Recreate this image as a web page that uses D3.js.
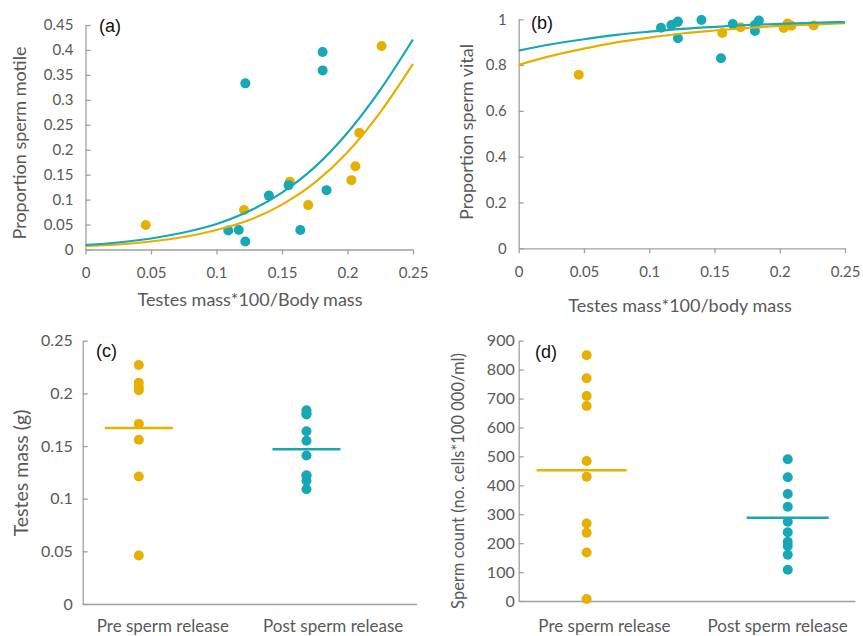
<!DOCTYPE html>
<html>
<head>
<meta charset="utf-8">
<script src="https://cdn.jsdelivr.net/npm/d3@7"></script>
<style>
  body { margin: 0; background: #fff; }
  svg { display: block; }
  .tick text { font-family: Lato, "Open Sans", sans-serif; fill: #595959; }
  .axis path, .axis line { stroke: #a0a0a0; stroke-width: 1.3; }
  .title { font-family: Lato, "Open Sans", sans-serif; fill: #595959; }
  .panel-tag { font-family: "Liberation Sans", Arial, sans-serif; fill: #111; font-size: 18px; }
</style>
</head>
<body>
<div id="chart"></div>
<script>
// colours for the two groups
var colPre = "#e6b000",   // pre sperm release
    colPost = "#17a8b5"   // post sperm release

// panel (a): proportion motile vs relative testes mass
var relMassPre  = [0.046, 0.121, 0.156, 0.170, 0.203, 0.206, 0.209, 0.226]
var relMassPost = [0.109, 0.117, 0.122, 0.122, 0.140, 0.155, 0.164, 0.181, 0.181, 0.184]
var motilePre   = [0.049, 0.079, 0.136, 0.089, 0.139, 0.167, 0.234, 0.408]
var motilePost  = [0.038, 0.039, 0.016, 0.333, 0.108, 0.129, 0.039, 0.396, 0.359, 0.119]

// panel (b): proportion vital
var vitalPre  = [0.758, 0.985, 0.940, 0.965, 0.962, 0.982, 0.972, 0.973]
var vitalPost = [0.963, 0.975, 0.990, 0.917, 0.997, 0.830, 0.979, 0.949, 0.975, 0.995]

// fitted curves at these x values
var fitX = [0, 0.025, 0.05, 0.075, 0.1, 0.125, 0.15, 0.175, 0.2, 0.225, 0.25]
var fitMotilePre  = [0.007, 0.010, 0.016, 0.025, 0.039, 0.059, 0.090, 0.134, 0.195, 0.275, 0.372]
var fitMotilePost = [0.009, 0.014, 0.022, 0.034, 0.051, 0.077, 0.114, 0.165, 0.234, 0.320, 0.421]
var fitVitalPre   = [0.801, 0.840, 0.872, 0.899, 0.920, 0.938, 0.951, 0.962, 0.971, 0.977, 0.983]
var fitVitalPost  = [0.863, 0.891, 0.913, 0.932, 0.946, 0.958, 0.967, 0.975, 0.980, 0.985, 0.988]

// panels (c) and (d): groups
var groups = ["Pre sperm release", "Post sperm release"]
var testesPre  = [0.227, 0.210, 0.206, 0.203, 0.171, 0.156, 0.121, 0.046]
var testesPost = [0.184, 0.181, 0.180, 0.164, 0.155, 0.141, 0.122, 0.122, 0.117, 0.109]
var testesMeans = [0.167, 0.147]
var countPre  = [850, 770, 709, 674, 484, 430, 268, 236, 168, 7]
var countPost = [490, 428, 370, 326, 274, 238, 205, 190, 160, 108]
var countMeans = [452, 288]

// tick values
var ticksMotile = d3.range(0, 0.4501, 0.05)
var ticksVital  = [0, 0.2, 0.4, 0.6, 0.8, 1]
var ticksRelMass = [0, 0.05, 0.1, 0.15, 0.2, 0.25]
var ticksTestes = [0, 0.05, 0.1, 0.15, 0.2, 0.25]
var ticksCount  = d3.range(0, 901, 100)

var fmt = function(d) { return String(+d.toFixed(2)) }

var svg = d3.select("#chart").append("svg")
    .attr("width", 863)
    .attr("height", 636)

svg.append("rect").attr("width", 863).attr("height", 636).attr("fill", "#fff")

function yAxis(g, y, ticks, x0, pad, fs) {
  g.append("g")
    .attr("class", "axis")
    .attr("transform", "translate(" + x0 + ",0)")
    .call(d3.axisLeft(y).tickValues(ticks).tickFormat(fmt).tickSize(-5).tickSizeOuter(0).tickPadding(pad))
    .selectAll("text").style("font-size", fs + "px")
}

// scatter panels (a) and (b)
function scatterPanel(cfg) {
  var x = d3.scaleLinear().domain([0, 0.25]).range([cfg.x0, cfg.x1])
  var y = d3.scaleLinear().domain(cfg.yDomain).range([cfg.y0, cfg.y1])
  var g = svg.append("g")

  yAxis(g, y, cfg.yTicks, cfg.x0, 12, 15)

  g.append("g")
    .attr("class", "axis")
    .attr("transform", "translate(0," + cfg.y0 + ")")
    .call(d3.axisBottom(x).tickValues(ticksRelMass).tickFormat(fmt).tickSize(5).tickSizeOuter(0).tickPadding(13))
    .selectAll("text").style("font-size", "15px")

  var pre = cfg.xPre.map(function(d, i) { return {x: d, y: cfg.yPre[i]} })
  var post = cfg.xPost.map(function(d, i) { return {x: d, y: cfg.yPost[i]} })

  g.selectAll(".dot-pre").data(pre).enter().append("circle")
    .attr("cx", function(d) { return x(d.x) })
    .attr("cy", function(d) { return y(d.y) })
    .attr("r", 5)
    .attr("fill", colPre)
  g.selectAll(".dot-post").data(post).enter().append("circle")
    .attr("cx", function(d) { return x(d.x) })
    .attr("cy", function(d) { return y(d.y) })
    .attr("r", 5)
    .attr("fill", colPost)

  var line = d3.line()
    .x(function(d, i) { return x(fitX[i]) })
    .y(function(d) { return y(d) })
    .curve(d3.curveMonotoneX)

  g.append("path").attr("d", line(cfg.fitPre))
    .attr("fill", "none").attr("stroke", colPre).attr("stroke-width", 2.2)
  g.append("path").attr("d", line(cfg.fitPost))
    .attr("fill", "none").attr("stroke", colPost).attr("stroke-width", 2.2)

  g.append("text").attr("class", "title")
    .attr("x", cfg.xTitlePos[0]).attr("y", cfg.xTitlePos[1])
    .attr("text-anchor", "middle").attr("dy", "0.35em")
    .style("font-size", "18px")
    .text(cfg.xTitle)
  g.append("text").attr("class", "title")
    .attr("transform", "translate(" + cfg.yTitlePos[0] + "," + cfg.yTitlePos[1] + ") rotate(-90)")
    .attr("text-anchor", "middle").attr("dy", "0.35em")
    .style("font-size", "18px")
    .text(cfg.yTitle)
  g.append("text").attr("class", "panel-tag")
    .attr("x", cfg.tag[0]).attr("y", cfg.tag[1])
    .text(cfg.tagText)
}

// strip panels (c) and (d)
function stripPanel(cfg) {
  var xb = d3.scaleBand().domain(groups).range([cfg.x0, cfg.x1])
  var xp = d3.scaleLinear().domain([0, 1]).range([cfg.x0, cfg.x1])
  var y = d3.scaleLinear().domain(cfg.yDomain).range([cfg.y0, cfg.y1])
  var g = svg.append("g")

  yAxis(g, y, cfg.yTicks, cfg.x0, cfg.tickPad, 16)

  var xa = g.append("g")
    .attr("class", "axis")
    .attr("transform", "translate(0," + cfg.y0 + ")")
    .call(d3.axisBottom(xb).tickSize(0).tickSizeOuter(0).tickPadding(cfg.labelPad))
  xa.selectAll("text").style("font-size", "17px")
  xa.selectAll(".tick").attr("transform", function(d, i) {
    return "translate(" + xp(cfg.labelPos[i]) + ",0)"
  })

  var sets = [cfg.pre, cfg.post]
  var cols = [colPre, colPost]
  sets.forEach(function(vals, i) {
    var cx = xp(cfg.markPos[i])
    g.selectAll(".dot" + i).data(vals).enter().append("circle")
      .attr("cx", cx)
      .attr("cy", function(d) { return y(d) })
      .attr("r", 5)
      .attr("fill", cols[i])
    g.append("line")
      .attr("x1", cx - cfg.meanHalf[i][0]).attr("x2", cx + cfg.meanHalf[i][1])
      .attr("y1", y(cfg.means[i])).attr("y2", y(cfg.means[i]))
      .attr("stroke", cols[i]).attr("stroke-width", 2.5)
  })

  g.append("text").attr("class", "title")
    .attr("transform", "translate(" + cfg.yTitlePos[0] + "," + cfg.yTitlePos[1] + ") rotate(-90)")
    .attr("text-anchor", "middle").attr("dy", "0.35em")
    .style("font-size", cfg.yTitleSize + "px")
    .text(cfg.yTitle)
  g.append("text").attr("class", "panel-tag")
    .attr("x", cfg.tag[0]).attr("y", cfg.tag[1])
    .text(cfg.tagText)
}

scatterPanel({
  x0: 85.5, x1: 413, y0: 249.5, y1: 25,
  yDomain: [0, 0.45], yTicks: ticksMotile,
  xPre: relMassPre, yPre: motilePre, xPost: relMassPost, yPost: motilePost,
  fitPre: fitMotilePre, fitPost: fitMotilePost,
  xTitle: "Testes mass*100/Body mass", xTitlePos: [250, 300],
  yTitle: "Proportion sperm motile", yTitlePos: [20, 143],
  tag: [99, 32], tagText: "(a)"
})

scatterPanel({
  x0: 518.7, x1: 845, y0: 248.3, y1: 19.3,
  yDomain: [0, 1], yTicks: ticksVital,
  xPre: relMassPre, yPre: vitalPre, xPost: relMassPost, yPost: vitalPost,
  fitPre: fitVitalPre, fitPost: fitVitalPost,
  xTitle: "Testes mass*100/body mass", xTitlePos: [680, 306],
  yTitle: "Proportion sperm vital", yTitlePos: [467, 132],
  tag: [531, 29], tagText: "(b)"
})

stripPanel({
  x0: 82.7, x1: 416.7, y0: 604, y1: 340.7,
  yDomain: [0, 0.25], yTicks: ticksTestes, tickPad: 10,
  pre: testesPre, post: testesPost, means: testesMeans,
  markPos: [0.168, 0.67], labelPos: [0.24, 0.75], labelPad: 16,
  meanHalf: [[34, 34], [34, 34]],
  yTitle: "Testes mass (g)", yTitleSize: 19.5, yTitlePos: [21, 473],
  tag: [96, 357], tagText: "(c)"
})

stripPanel({
  x0: 518.7, x1: 855, y0: 601, y1: 340.7,
  yDomain: [0, 900], yTicks: ticksCount, tickPad: 4,
  pre: countPre, post: countPost, means: countMeans,
  markPos: [0.202, 0.80], labelPos: [0.255, 0.77], labelPad: 19,
  meanHalf: [[50, 40], [41, 41]],
  yTitle: "Sperm count (no. cells*100 000/ml)", yTitleSize: 16.5, yTitlePos: [458, 481],
  tag: [535, 358], tagText: "(d)"
})
</script>
</body>
</html>
